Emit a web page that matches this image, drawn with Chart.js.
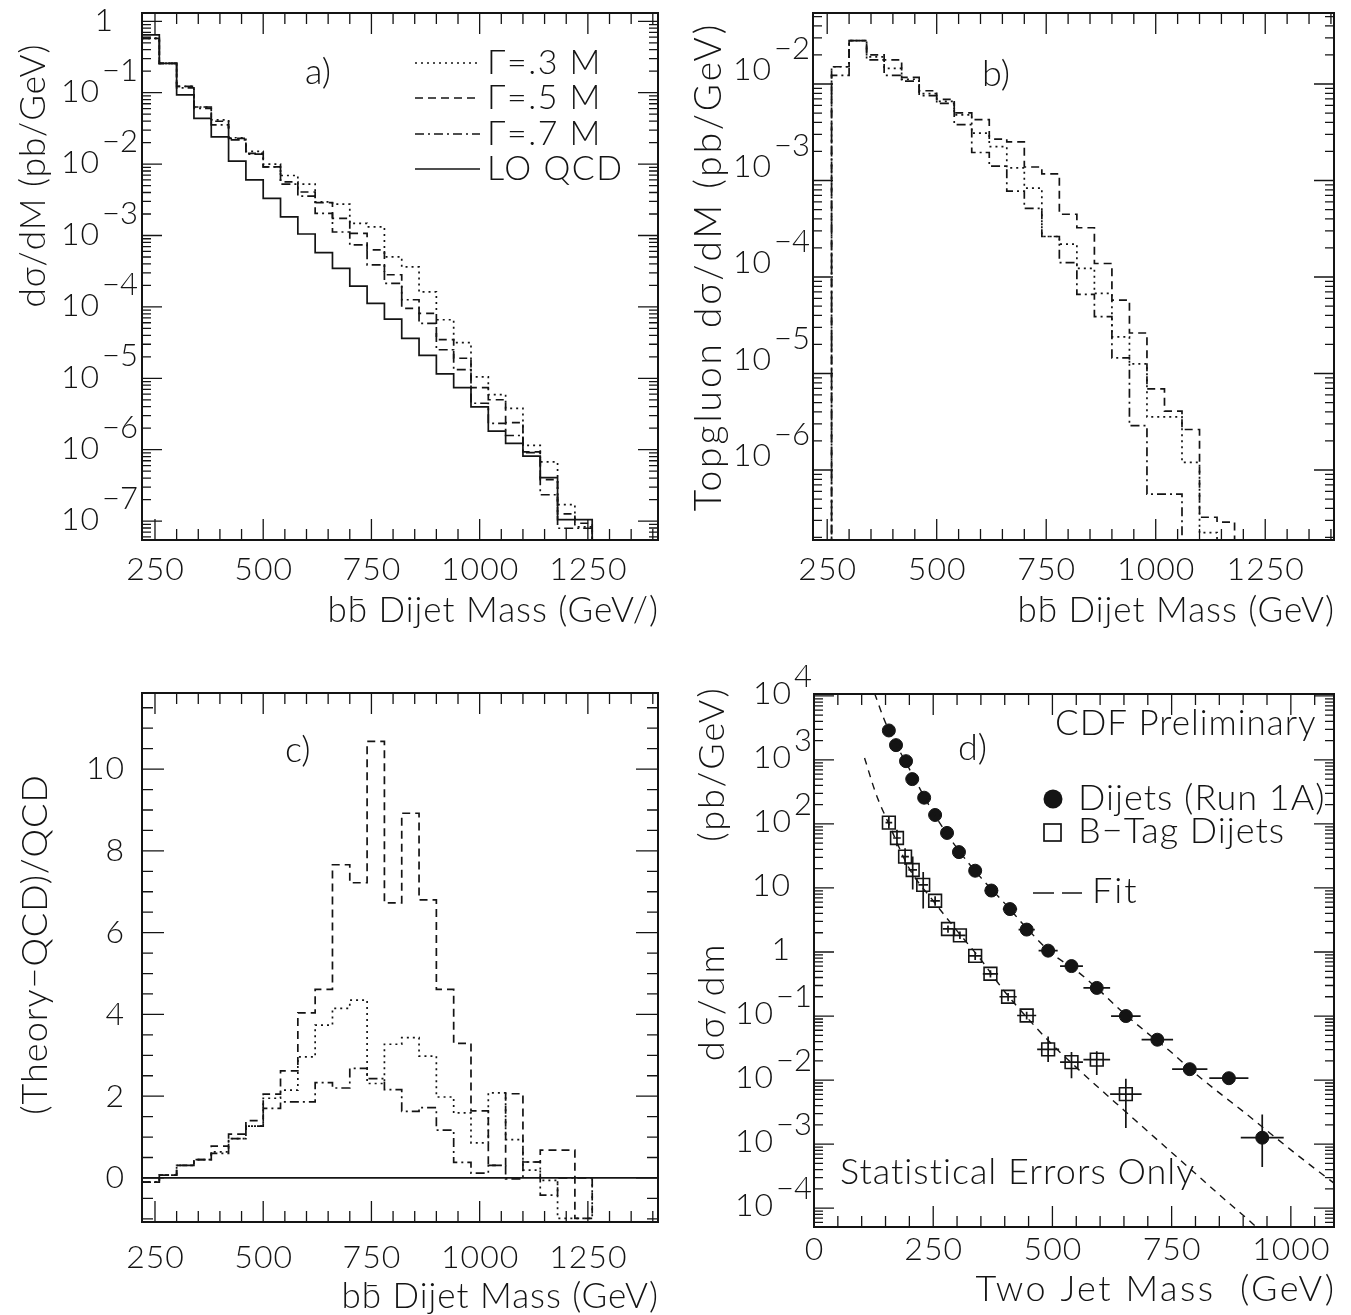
<!DOCTYPE html>
<html><head><meta charset="utf-8">
<script src="https://cdn.jsdelivr.net/npm/chart.js@4.4.1/dist/chart.umd.min.js"></script>
<style>
html,body{margin:0;padding:0;background:#fff;}
#wrap{position:relative;width:1351px;height:1315px;overflow:hidden;background:#fff;}
canvas{position:absolute;}
</style></head><body><div id="wrap">
<canvas id="ca" width="676" height="655" style="left:0px;top:0px"></canvas>
<canvas id="cb" width="675" height="655" style="left:676px;top:0px"></canvas>
<canvas id="cc" width="676" height="660" style="left:0px;top:655px"></canvas>
<canvas id="cd" width="675" height="660" style="left:676px;top:655px"></canvas>
</div>
<script>
// ================= DATA =================
const EMPTY = 1e-12; // empty histogram bin (lies below the log-axis floor)

// ---- panel a : d sigma / dM, 40 GeV bins ----
const binEdgesA = [220,260,300,340,380,420,460,500,540,580,620,660,700,740,780,820,860,900,940,980,1020,1060,1100,1140,1180,1220,1260];
const qcdA    = [0.646,0.257,0.0933,0.0437,0.0240,0.0110,0.00603,0.00331,0.00182,0.00105,5.75e-4,3.47e-4,1.95e-4,1.12e-4,6.76e-5,3.63e-5,2.09e-5,1.15e-5,7.41e-6,3.98e-6,1.82e-6,1.23e-6,8.13e-7,4.07e-7,1.05e-7,1.05e-7];
const gamma3A = [0.575,0.257,0.123,0.0631,0.0417,0.0234,0.0151,0.0100,0.00692,0.00525,0.00295,0.00275,0.00148,0.00132,5.01e-4,3.63e-4,1.62e-4,6.61e-5,3.16e-5,1.05e-5,5.89e-6,3.80e-6,1.15e-6,6.76e-7,1.70e-7,8.32e-8];
const gamma5A = [0.575,0.257,0.123,0.0631,0.0398,0.0229,0.0141,0.00912,0.00562,0.00407,0.00288,0.00174,0.00107,6.31e-4,2.82e-4,9.55e-5,8.13e-5,3.47e-5,1.91e-5,7.41e-6,5.01e-6,2.40e-6,9.33e-7,3.80e-7,1.26e-7,9.33e-8];
const gamma7A = [0.575,0.257,0.117,0.0603,0.0355,0.0219,0.0138,0.00912,0.00525,0.00355,0.00204,0.00112,7.41e-4,3.89e-4,2.14e-4,1.26e-4,5.89e-5,2.51e-5,1.32e-5,4.47e-6,2.34e-6,1.58e-6,9.12e-7,2.34e-7,7.94e-8,7.94e-8];

// ---- panel b : topgluon d sigma / dM ----
const binEdgesB = [220,260,300,340,380,420,460,500,540,580,620,660,700,740,780,820,860,900,940,980,1020,1060,1100,1140,1180,1220];
const gamma3B = [EMPTY,0.0151,0.0282,0.0191,0.0145,0.0112,0.00794,0.00661,0.00479,0.00309,0.00224,0.00135,8.32e-4,2.63e-4,2.19e-4,1.23e-4,6.76e-5,2.40e-5,1.26e-5,3.55e-6,3.55e-6,1.20e-6,2.24e-7,1.58e-7,EMPTY];
const gamma5B = [EMPTY,0.0151,0.0282,0.0200,0.0178,0.0117,0.00851,0.00692,0.00501,0.00427,0.00269,0.00251,0.00138,0.00117,4.47e-4,3.24e-4,1.38e-4,5.75e-5,2.63e-5,6.92e-6,4.07e-6,2.63e-6,3.24e-7,2.88e-7,EMPTY];
const gamma7B = [EMPTY,0.0123,0.0282,0.0178,0.0123,0.0107,0.00759,0.00631,0.00380,0.00195,0.00141,7.76e-4,5.13e-4,2.63e-4,1.41e-4,6.61e-5,3.89e-5,1.45e-5,2.88e-6,5.62e-7,5.62e-7,EMPTY,EMPTY,EMPTY,EMPTY];

// ---- panel c : (Theory-QCD)/QCD ----
const binEdgesC = binEdgesA;
const ratio3C = [-0.10,0.07,0.31,0.45,0.64,0.96,1.27,1.95,2.15,2.96,3.74,4.15,4.35,2.31,3.27,3.43,2.98,1.98,1.59,0.86,2.08,0.94,0.19,-0.06,-0.99,-0.99];
const ratio5C = [-0.10,0.07,0.31,0.45,0.78,1.07,1.40,2.05,2.62,4.04,4.61,7.66,7.22,10.68,6.73,8.92,6.80,4.61,3.29,1.64,0.31,2.06,0.39,0.68,0.68,-0.99];
const ratio7C = [-0.10,0.07,0.31,0.45,0.60,0.96,1.27,1.70,1.86,1.86,2.33,2.20,2.68,2.43,2.16,1.63,1.72,1.17,0.38,0.12,0.31,-0.02,0.39,-0.42,0,0];
const qcdRefC = [{x:220,y:0},{x:1420,y:0}];

// ---- panel d : CDF dijet spectra ----
const dijetMass = [157,172,193,206,231,254,279,304,338,372,411,446,491,540,593,654,720,788,870,940];
const dijetXsec = [2880,1700,955,501,257,138,72.4,36.3,18.6,9.12,4.68,2.24,1.05,0.603,0.275,0.100,0.0427,0.0148,0.0107,0.00126];
const dijetXErr = [7,8,8,9,10,10,11,12,13,14,15,17,20,24,28,31,33,37,41,45];
const dijetYLo  = [null,null,null,null,null,null,null,null,null,null,null,null,null,null,null,null,null,null,0.0087,4.4e-4];
const dijetYHi  = [null,null,null,null,null,null,null,null,null,null,null,null,null,null,null,null,null,null,0.0131,2.9e-3];
const btagMass  = [157,174,191,207,229,254,281,306,338,370,407,446,491,540,593,654];
const btagXsec  = [105,60.3,30.9,19.1,11.2,6.31,2.29,1.82,0.871,0.457,0.200,0.102,0.0302,0.0191,0.0209,0.00603];
const btagXErr  = [7,8,8,9,10,10,11,12,13,16,18,20,23,24,28,33];
const btagYLo   = [85,44.7,22.9,9.5,4.8,5.3,2.0,1.6,0.75,0.40,0.17,0.088,0.0191,0.0107,0.0120,0.00178];
const btagYHi   = [130,81.3,41.7,30.9,17.8,7.4,2.6,2.1,1.0,0.52,0.23,0.117,0.0479,0.0275,0.0282,0.0105];
const fitDijetMass = [127,150,200,250,300,350,400,450,500,550,600,650,700,750,800,850,900,950,1000,1050,1089];
const fitDijetXsec = [10965,3802,724,151,41.7,14.5,5.75,2.19,0.933,0.513,0.245,0.110,0.0537,0.0269,0.0126,0.00631,0.00324,0.00162,8.13e-4,4.17e-4,2.51e-4];
const fitBtagMass  = [106,130,157,200,250,300,350,400,450,500,550,600,650,700,750,800,850,912,930];
const fitBtagXsec  = [1072,295,100,20.0,6.31,2.14,0.759,0.240,0.0891,0.0355,0.0158,0.00724,0.00339,0.00158,7.41e-4,3.47e-4,1.62e-4,6.46e-5,4.9e-5];

// ---- tick labels ----
const xTicksAB = [250,500,750,1000,1250];
const xTicksD  = [0,250,500,750,1000];
const yTicksA  = [1,1e-1,1e-2,1e-3,1e-4,1e-5,1e-6,1e-7];
const yLabelsA = ['1','10^−1','10^−2','10^−3','10^−4','10^−5','10^−6','10^−7'];
const yTicksB  = [1e-2,1e-3,1e-4,1e-5,1e-6];
const yLabelsB = ['10^−2','10^−3','10^−4','10^−5','10^−6'];
const yTicksC  = [0,2,4,6,8,10];
const yLabelsC = ['0','2','4','6','8','10'];
const yTicksD  = [1e4,1e3,1e2,10,1,1e-1,1e-2,1e-3,1e-4];
const yLabelsD = ['10^4','10^3','10^2','10','1','10^−1','10^−2','10^−3','10^−4'];
const legendA  = ['Γ=.3 M','Γ=.5 M','Γ=.7 M','LO QCD'];

// ================= STYLE =================
const INK = '#141414';
const FAM = 'Lato, "Open Sans", "DejaVu Sans", sans-serif';
const F = s => `300 ${s}px ${FAM}`;
const DASH = { g3:[2,4], g5:[8,5], g7:[9,4,2,4], qcd:[] };

function txt(ctx, s, x, y, size, align, spacing){
  ctx.font = F(size);
  ctx.letterSpacing = (spacing || 0) + 'px';
  ctx.textAlign = align || 'left';
  ctx.textBaseline = 'middle';
  const dx = (align === 'right') ? (spacing || 0) : (align === 'center' ? (spacing||0)/2 : 0);
  ctx.fillText(s, x + dx, y);
  ctx.letterSpacing = '0px';
}
function textW(ctx, s, size){ ctx.font = F(size); ctx.letterSpacing = '0px'; return ctx.measureText(s).width; }
function vtxt(ctx, s, x, y, size, spacing){
  ctx.save(); ctx.translate(x, y); ctx.rotate(-Math.PI/2);
  txt(ctx, s, 0, 0, size, 'center', spacing);
  ctx.restore();
}

function hist(edges, vals, dash, tail){
  const data = vals.map((v,i)=>({x:edges[i], y:v}));
  data.push({x:edges[vals.length], y:tail});
  return {data, stepped:'before', borderColor:INK, borderWidth:1.7, borderDash:dash,
          pointRadius:0, fill:false, tension:0, borderCapStyle:'butt'};
}

// ================= DECORATION =================
function deco(chart, P){
  const ctx = chart.ctx, xs = chart.scales.x, ys = chart.scales.y, ca = chart.chartArea;
  const ox = P.origin[0], oy = P.origin[1];
  const X = v => xs.getPixelForValue(v) + ox;
  const Y = v => ys.getPixelForValue(v) + oy;
  const A = {l:ca.left+ox, r:ca.right+ox, t:ca.top+oy, b:ca.bottom+oy};
  ctx.save();
  ctx.translate(-ox, -oy);
  if (P.extra) P.extra(ctx, X, Y, A);
  ctx.strokeStyle = INK; ctx.fillStyle = INK;
  // ticks (inside, all four sides)
  ctx.lineWidth = 1.3;
  ctx.beginPath();
  for (let v = P.xMinorStart; v <= xs.max + 1e-6; v += P.xMinorStep){
    if (v < xs.min) continue;
    const px = X(v), len = P.xTicks.includes(v) ? 21 : 11;
    ctx.moveTo(px, A.b); ctx.lineTo(px, A.b - len);
    ctx.moveTo(px, A.t); ctx.lineTo(px, A.t + len);
  }
  if (P.logY){
    const d0 = Math.floor(Math.log10(ys.min)), d1 = Math.ceil(Math.log10(ys.max));
    for (let d = d0; d <= d1; d++) for (let k = 1; k <= 9; k++){
      const v = k * Math.pow(10, d);
      if (v < ys.min || v > ys.max) continue;
      const py = Y(v), len = k === 1 ? 20 : 9;
      ctx.moveTo(A.l, py); ctx.lineTo(A.l + len, py);
      ctx.moveTo(A.r, py); ctx.lineTo(A.r - len, py);
    }
  } else {
    for (let v = -1; v <= ys.max; v += 0.5){
      const py = Y(v), len = (Math.abs(v % 2) < 1e-9) ? 22 : 11;
      ctx.moveTo(A.l, py); ctx.lineTo(A.l + len, py);
      ctx.moveTo(A.r, py); ctx.lineTo(A.r - len, py);
    }
  }
  ctx.stroke();
  // frame
  ctx.lineWidth = 2;
  ctx.strokeRect(A.l, A.t, A.r - A.l, A.b - A.t);
  // x labels
  P.xTicks.forEach(v => txt(ctx, String(v), X(v), P.xLabelY, 32, 'center', 1));
  // y labels
  P.yTicks.forEach((v,i) => {
    const parts = P.yLabels[i].split('^'), y = Y(v) + P.labelDy;
    if (parts.length === 1){ txt(ctx, parts[0], P.plainRight, y, 32, 'right', 1); return; }
    let baseR;
    if (P.expRight){ baseR = P.expRight - textW(ctx, parts[1], 31) - 3; }
    else baseR = P.baseRight;
    txt(ctx, parts[0], baseR, y, 32, 'right', 1);
    txt(ctx, parts[1], baseR + 3, y - P.expShift, 31, 'left', 0);
  });
  // titles
  P.xTitles.forEach(t => txt(ctx, t[0], t[1], t[2], t[3], 'right', t[4]));
  P.yTitles.forEach(t => vtxt(ctx, t[0], t[1], t[2], t[3], t[4]));
  txt(ctx, P.tag, P.tagPos[0], P.tagPos[1], 36, 'left', 0);
  if (P.after) P.after(ctx, X, Y, A);
  ctx.restore();
}

function makeChart(id, P, scales, datasets){
  const cv = document.getElementById(id);
  const ox = P.origin[0], oy = P.origin[1];
  return new Chart(cv, {
    type:'line',
    data:{datasets},
    options:{
      responsive:false, animation:false, devicePixelRatio:1, events:[],
      layout:{padding:{left:P.frame[0]-ox, top:P.frame[1]-oy, right:cv.width-(P.frame[2]-ox), bottom:cv.height-(P.frame[3]-oy)}},
      plugins:{legend:{display:false}, tooltip:{enabled:false}},
      scales:{
        x:Object.assign({type:'linear', display:false}, scales.x),
        y:Object.assign({display:false}, scales.y)
      }
    },
    plugins:[{id:'deco_'+id, afterDraw(c){ deco(c, P); }}]
  });
}

// ================= PANEL A =================
makeChart('ca', {
  origin:[0,0], frame:[142,13,658,540], logY:true,
  xTicks:xTicksAB, xMinorStart:250, xMinorStep:50, xLabelY:570,
  yTicks:yTicksA, yLabels:yLabelsA, labelDy:-1, baseRight:99, plainRight:113, expShift:21,
  xTitles:[['bb\u0304 Dijet Mass (GeV/)', 658, 611, 35, 1]],
  yTitles:[['dσ/dM (pb/GeV)', 34, 176, 35, 1]],
  tag:'a)', tagPos:[305,72],
  after(ctx){
    const ys=[63,98,134,169], dashes=[DASH.g3,DASH.g5,DASH.g7,DASH.qcd];
    ctx.lineWidth=1.7;
    ys.forEach((y,i)=>{ ctx.setLineDash(dashes[i]); ctx.beginPath(); ctx.moveTo(415,y); ctx.lineTo(480,y); ctx.stroke(); });
    ctx.setLineDash([]);
    ys.forEach((y,i)=>txt(ctx, legendA[i], 487, y, 34, 'left', 1.5));
  }
}, {x:{min:220,max:1412}, y:{type:'logarithmic', min:5.436e-8, max:1.307}}, [
  hist(binEdgesA, qcdA, DASH.qcd, EMPTY),
  hist(binEdgesA, gamma3A, DASH.g3, EMPTY),
  hist(binEdgesA, gamma5A, DASH.g5, EMPTY),
  hist(binEdgesA, gamma7A, DASH.g7, EMPTY)
]);

// ================= PANEL B =================
makeChart('cb', {
  origin:[676,0], frame:[813,13,1334,540], logY:true,
  xTicks:xTicksAB, xMinorStart:250, xMinorStep:50, xLabelY:570,
  yTicks:yTicksB, yLabels:yLabelsB, labelDy:-14, baseRight:771, plainRight:771, expShift:21,
  xTitles:[['bb\u0304 Dijet Mass (GeV)', 1334, 611, 35, 1]],
  yTitles:[['Topgluon dσ/dM (pb/GeV)', 709, 268, 37, 3]],
  tag:'b)', tagPos:[982,74]
}, {x:{min:217.6,max:1407}, y:{type:'logarithmic', min:1.882e-7, max:0.05442}}, [
  hist(binEdgesB, gamma3B, DASH.g3, EMPTY),
  hist(binEdgesB, gamma5B, DASH.g5, EMPTY),
  hist(binEdgesB, gamma7B, DASH.g7, EMPTY)
]);

// ================= PANEL C =================
makeChart('cc', {
  origin:[0,655], frame:[142,693,658,1222], logY:false,
  xTicks:xTicksAB, xMinorStart:250, xMinorStep:50, xLabelY:1258,
  yTicks:yTicksC, yLabels:yLabelsC, labelDy:0, baseRight:123, plainRight:124, expShift:0,
  xTitles:[['bb\u0304 Dijet Mass (GeV)', 658, 1297, 35, 1]],
  yTitles:[['(Theory−QCD)/QCD', 35, 945, 36, 1]],
  tag:'c)', tagPos:[285,750]
}, {x:{min:220,max:1412}, y:{type:'linear', min:-1.077, max:11.861}}, [
  {data:qcdRefC, borderColor:INK, borderWidth:1.7, pointRadius:0, fill:false},
  hist(binEdgesC, ratio3C, DASH.g3, 0),
  hist(binEdgesC, ratio5C, DASH.g5, 0),
  hist(binEdgesC, ratio7C, DASH.g7, 0)
]);

// ================= PANEL D =================
function bars(ctx, X, Y, A, xs, ys, xe, lo, hi){
  ctx.save();
  ctx.beginPath(); ctx.rect(A.l, A.t, A.r-A.l, A.b-A.t); ctx.clip();
  ctx.strokeStyle=INK; ctx.lineWidth=1.7; ctx.beginPath();
  xs.forEach((m,i)=>{
    const py = Y(ys[i]);
    ctx.moveTo(X(m - xe[i]), py); ctx.lineTo(X(m + xe[i]), py);
    if (lo[i] != null){ ctx.moveTo(X(m), Y(lo[i])); ctx.lineTo(X(m), Y(hi[i])); }
  });
  ctx.stroke(); ctx.restore();
}
makeChart('cd', {
  origin:[676,655], frame:[814,694,1334,1227], logY:true,
  xTicks:xTicksD, xMinorStart:0, xMinorStep:50, xLabelY:1250,
  yTicks:yTicksD, yLabels:yLabelsD, labelDy:-2, expRight:812, plainRight:790, expShift:17,
  xTitles:[['Two Jet Mass  (GeV)', 1334, 1289, 36, 2.5]],
  yTitles:[['(pb/GeV)', 712, 765, 36, 2], ['dσ/dm', 712, 1003, 36, 3]],
  tag:'d)', tagPos:[958,748],
  extra(ctx, X, Y, A){
    bars(ctx, X, Y, A, dijetMass, dijetXsec, dijetXErr, dijetYLo, dijetYHi);
    bars(ctx, X, Y, A, btagMass, btagXsec, btagXErr, btagYLo, btagYHi);
  },
  after(ctx){
    txt(ctx, 'CDF Preliminary', 1055, 724, 35, 'left', 1);
    txt(ctx, 'Dijets (Run 1A)', 1078, 798, 36, 'left', 1);
    txt(ctx, 'B−Tag Dijets', 1078, 831, 36, 'left', 1);
    txt(ctx, 'Fit', 1092, 891, 36, 'left', 2);
    txt(ctx, 'Statistical Errors Only', 840, 1172, 36, 'left', 1);
    ctx.beginPath(); ctx.arc(1053, 799, 9.5, 0, 2*Math.PI); ctx.fill();
    ctx.lineWidth=1.7; ctx.strokeRect(1044, 824, 17, 17);
    ctx.beginPath(); ctx.moveTo(1033,893); ctx.lineTo(1054,893); ctx.moveTo(1062,893); ctx.lineTo(1082,893); ctx.stroke();
  }
}, {x:{min:0,max:1090.5}, y:{type:'logarithmic', min:5.08e-5, max:1.069e4}}, [
  {data:fitDijetMass.map((m,i)=>({x:m,y:fitDijetXsec[i]})), borderColor:INK, borderWidth:1.4, borderDash:[7,6], pointRadius:0, fill:false, cubicInterpolationMode:'monotone'},
  {data:fitBtagMass.map((m,i)=>({x:m,y:fitBtagXsec[i]})), borderColor:INK, borderWidth:1.4, borderDash:[7,6], pointRadius:0, fill:false, cubicInterpolationMode:'monotone'},
  {data:dijetMass.map((m,i)=>({x:m,y:dijetXsec[i]})), showLine:false, pointStyle:'circle', pointRadius:6.5, pointBackgroundColor:INK, pointBorderColor:INK, pointBorderWidth:1},
  {data:btagMass.map((m,i)=>({x:m,y:btagXsec[i]})), showLine:false, pointStyle:'rect', pointRadius:9, pointBackgroundColor:'rgba(0,0,0,0)', pointBorderColor:INK, pointBorderWidth:1.6}
]);
</script></body></html>
